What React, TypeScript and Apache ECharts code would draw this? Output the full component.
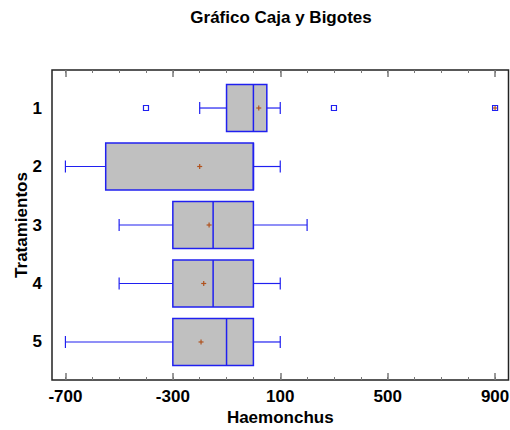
import React, { useEffect, useRef } from "react";
import * as echarts from "echarts";

const categories = [1, 2, 3, 4, 5];
const whiskerLow = [-200, -700, -500, -500, -700];
const q1 = [-100, -550, -300, -300, -300];
const median = [0, 0, -150, -150, -100];
const q3 = [50, 0, 0, 0, 0];
const whiskerHigh = [100, 100, 200, 100, 100];
const means = [20, -200, -165, -185, -195];
const outliers: [number, number][] = [[-400, 1], [300, 1]];
const farOutliers: [number, number][] = [[900, 1]];
const majorTicks = [-700, -300, 100, 500, 900];
const minorTicks = [-700, -600, -500, -400, -300, -200, -100, 0, 100, 200, 300, 400, 500, 600, 700, 800, 900];

const BLUE = "#2020f0";
const BROWN = "#b0521e";
const FONT = "Liberation Sans, Arial, sans-serif";

export default function App() {
  const ref = useRef<HTMLDivElement>(null);
  useEffect(() => {
    document.body.style.margin = "0";
    const chart = echarts.init(ref.current!, null, { renderer: "svg" });
    const boxData = categories.map((c, i) => [c, whiskerLow[i], q1[i], median[i], q3[i], whiskerHigh[i]]);
    const meanData = categories.map((c, i) => [means[i], c]);
    const xCommon = {
      type: "value",
      min: -750,
      max: 950,
      axisLine: { show: false },
      splitLine: { show: false },
      axisLabel: { show: false },
    };
    const plusItem = (cx: number, cy: number, r: number, w: number) => [
      { type: "line", shape: { x1: cx - r, y1: cy, x2: cx + r, y2: cy }, style: { stroke: BROWN, lineWidth: w } },
      { type: "line", shape: { x1: cx, y1: cy - r, x2: cx, y2: cy + r }, style: { stroke: BROWN, lineWidth: w } },
    ];
    chart.setOption({
      animation: false,
      graphic: [
        {
          type: "text",
          x: 281,
          y: 17,
          style: {
            text: "Gráfico Caja y Bigotes",
            font: `bold 17px ${FONT}`,
            fill: "#000",
            align: "center",
            verticalAlign: "middle",
          },
        },
      ],
      grid: {
        show: true,
        left: 52,
        top: 70,
        width: 456.5,
        height: 310,
        containLabel: false,
        outerBoundsMode: "none",
        borderColor: "#222",
        borderWidth: 1.5,
        backgroundColor: "transparent",
      },
      xAxis: [
        {
          ...xCommon,
          position: "bottom",
          axisTick: { show: true, inside: true, length: 7, customValues: majorTicks, lineStyle: { color: "#777", width: 1.5 } },
          axisLabel: { show: true, customValues: majorTicks, margin: 8, fontSize: 17, fontWeight: "bold", color: "#000", fontFamily: FONT },
          name: "Haemonchus",
          nameLocation: "middle",
          nameGap: 29,
          nameMoveOverlap: false,
          nameTextStyle: { fontSize: 17, fontWeight: "bold", color: "#000", fontFamily: FONT },
        },
        {
          ...xCommon,
          position: "bottom",
          axisTick: { show: true, inside: true, length: 3, customValues: minorTicks, lineStyle: { color: "#777", width: 1 } },
        },
        {
          ...xCommon,
          position: "top",
          axisTick: { show: true, inside: true, length: 7, customValues: majorTicks, lineStyle: { color: "#777", width: 1.5 } },
        },
        {
          ...xCommon,
          position: "top",
          axisTick: { show: true, inside: true, length: 3, customValues: minorTicks, lineStyle: { color: "#777", width: 1 } },
        },
      ],
      yAxis: {
        type: "value",
        inverse: true,
        min: 0.35,
        max: 5.65,
        axisLine: { show: false },
        axisTick: { show: false },
        splitLine: { show: false },
        axisLabel: { customValues: categories, margin: 10, fontSize: 17, fontWeight: "bold", color: "#000", fontFamily: FONT },
        name: "Tratamientos",
        nameLocation: "middle",
        nameRotate: 90,
        nameGap: 22,
        nameMoveOverlap: false,
        nameTextStyle: { fontSize: 17, fontWeight: "bold", color: "#000", fontFamily: FONT },
      },
      series: [
        {
          type: "custom",
          xAxisIndex: 0,
          data: boxData,
          renderItem: (params: any, api: any) => {
            const y = api.value(0);
            const [xl, cy] = api.coord([api.value(1), y]);
            const [x1] = api.coord([api.value(2), y]);
            const [xm] = api.coord([api.value(3), y]);
            const [x3] = api.coord([api.value(4), y]);
            const [xh] = api.coord([api.value(5), y]);
            const unit = api.size([0, 1])[1];
            const hb = unit * 0.4;
            const hc = 6;
            const ws = { stroke: BLUE, lineWidth: 1.2 };
            return {
              type: "group",
              children: [
                { type: "line", shape: { x1: xl, y1: cy, x2: x1, y2: cy }, style: ws },
                { type: "line", shape: { x1: x3, y1: cy, x2: xh, y2: cy }, style: ws },
                { type: "line", shape: { x1: xl, y1: cy - hc, x2: xl, y2: cy + hc }, style: ws },
                { type: "line", shape: { x1: xh, y1: cy - hc, x2: xh, y2: cy + hc }, style: ws },
                { type: "rect", shape: { x: x1, y: cy - hb, width: x3 - x1, height: 2 * hb }, style: { fill: "#c0c0c0", stroke: BLUE, lineWidth: 1.5 } },
                { type: "line", shape: { x1: xm, y1: cy - hb, x2: xm, y2: cy + hb }, style: { stroke: BLUE, lineWidth: 1.5 } },
              ],
            };
          },
        },
        {
          type: "custom",
          xAxisIndex: 0,
          data: meanData,
          renderItem: (params: any, api: any) => {
            const [cx, cy] = api.coord([api.value(0), api.value(1)]);
            return { type: "group", children: plusItem(cx, cy, 2.5, 1.2) };
          },
        },
        {
          type: "custom",
          xAxisIndex: 0,
          data: outliers,
          renderItem: (params: any, api: any) => {
            const [cx, cy] = api.coord([api.value(0), api.value(1)]);
            return { type: "rect", shape: { x: cx - 2.5, y: cy - 2.5, width: 5, height: 5 }, style: { fill: "#fff", stroke: BLUE, lineWidth: 1.2 } };
          },
        },
        {
          type: "custom",
          xAxisIndex: 0,
          data: farOutliers,
          renderItem: (params: any, api: any) => {
            const [cx, cy] = api.coord([api.value(0), api.value(1)]);
            return {
              type: "group",
              children: [
                { type: "rect", shape: { x: cx - 2.5, y: cy - 2.5, width: 5, height: 5 }, style: { fill: "#fff", stroke: BLUE, lineWidth: 1.2 } },
                ...plusItem(cx, cy, 2, 1.2),
              ],
            };
          },
        },
      ],
    });
    return () => chart.dispose();
  }, []);
  return <div ref={ref} style={{ width: 510, height: 430 }} />;
}
